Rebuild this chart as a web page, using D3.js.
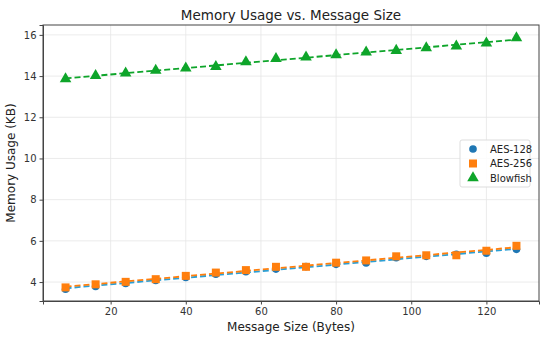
<!DOCTYPE html>
<html lang="en">
<head>
<meta charset="UTF-8">
<title>Memory Usage vs. Message Size</title>
<script src="https://d3js.org/d3.v7.min.js"></script>
<style>
    body { margin: 0; background: #fff; }
    text { font-family: "DejaVu Sans", sans-serif; fill: #222; }
    .grid line { stroke: #e6e6e6; stroke-width: 0.8px; }
    .axis path { stroke: #444; }
    .axis line { stroke: #444; }
    .axis text { font-size: 10px; fill: #333; }
</style>
</head>
<body>
<script>
    // message sizes in bytes
    const sizes = [8, 16, 24, 32, 40, 48, 56, 64, 72, 80, 88, 96, 104, 112, 120, 128];
    const aes128 = [3.65, 3.79, 3.93, 4.08, 4.22, 4.38, 4.50, 4.63, 4.75, 4.86, 4.93, 5.18, 5.25, 5.35, 5.40, 5.59];
    const aes256 = [3.74, 3.89, 4.01, 4.14, 4.30, 4.46, 4.58, 4.74, 4.74, 4.94, 5.05, 5.25, 5.30, 5.30, 5.52, 5.76];
    const blowfish = [13.86, 14.02, 14.14, 14.27, 14.38, 14.46, 14.69, 14.85, 14.92, 15.03, 15.16, 15.24, 15.37, 15.45, 15.60, 15.85];
    const xTicks = [20, 40, 60, 80, 100, 120];
    const yTicks = [4, 6, 8, 10, 12, 14, 16];

    const series = [
        { name: "AES-128", values: aes128, color: "#1f77b4", line: "#2a9fd6", shape: d3.symbolCircle, size: 46 },
        { name: "AES-256", values: aes256, color: "#ff7f0e", line: "#ff7f0e", shape: d3.symbolSquare, size: 64 },
        { name: "Blowfish", values: blowfish, color: "#0ea52a", line: "#0ea52a", shape: d3.symbolTriangle, size: 58 }
    ];

    const width = 550, height = 344;
    const margin = { top: 25, right: 11, bottom: 43, left: 43 };

    const svg = d3.select("body").append("svg")
        .attr("width", width)
        .attr("height", height);

    const x = d3.scaleLinear().domain([2, 134]).range([margin.left, width - margin.right]);
    const y = d3.scaleLinear().domain([3.08, 16.48]).range([height - margin.bottom, margin.top]);

    // grid
    svg.append("g").attr("class", "grid")
        .selectAll("line.v").data(xTicks).enter().append("line")
        .attr("x1", d => x(d)).attr("x2", d => x(d))
        .attr("y1", margin.top).attr("y2", height - margin.bottom);
    svg.append("g").attr("class", "grid")
        .selectAll("line.h").data(yTicks).enter().append("line")
        .attr("x1", margin.left).attr("x2", width - margin.right)
        .attr("y1", d => y(d)).attr("y2", d => y(d));

    // least squares fit, drawn as dashed trend line
    function fit(xs, ys) {
        const mx = d3.mean(xs), my = d3.mean(ys);
        let num = 0, den = 0;
        xs.forEach((v, i) => { num += (v - mx) * (ys[i] - my); den += (v - mx) * (v - mx); });
        const b = num / den;
        return v => my + b * (v - mx);
    }

    const plot = svg.append("g");
    series.forEach(s => {
        plot.append("g").selectAll("path").data(s.values).enter().append("path")
            .attr("d", d3.symbol().type(s.shape).size(s.size))
            .attr("transform", (d, i) => `translate(${x(sizes[i])},${y(d)})`)
            .attr("fill", s.color);
        const f = fit(sizes, s.values);
        const ends = [sizes[0], sizes[sizes.length - 1]];
        plot.append("line")
            .attr("x1", x(ends[0])).attr("y1", y(f(ends[0])))
            .attr("x2", x(ends[1])).attr("y2", y(f(ends[1])))
            .attr("stroke", s.line)
            .attr("stroke-width", 1.8)
            .attr("stroke-dasharray", "6,3");
    });

    // axes
    svg.append("g").attr("class", "axis")
        .attr("transform", `translate(0,${height - margin.bottom})`)
        .call(d3.axisBottom(x).tickValues(xTicks).tickSize(3.5).tickPadding(3));
    svg.append("g").attr("class", "axis")
        .attr("transform", `translate(${margin.left},0)`)
        .call(d3.axisLeft(y).tickValues(yTicks).tickSize(3.5).tickPadding(3));

    // frame
    svg.append("rect")
        .attr("x", margin.left).attr("y", margin.top)
        .attr("width", width - margin.left - margin.right)
        .attr("height", height - margin.top - margin.bottom)
        .attr("fill", "none").attr("stroke", "#444").attr("stroke-width", 1);

    // titles
    svg.append("text")
        .attr("x", (margin.left + width - margin.right) / 2).attr("y", 20)
        .attr("text-anchor", "middle").style("font-size", "13.5px")
        .text("Memory Usage vs. Message Size");
    svg.append("text")
        .attr("x", (margin.left + width - margin.right) / 2).attr("y", 331)
        .attr("text-anchor", "middle").style("font-size", "12px")
        .text("Message Size (Bytes)");
    svg.append("text")
        .attr("transform", `translate(15,${(margin.top + height - margin.bottom) / 2}) rotate(-90)`)
        .attr("text-anchor", "middle").style("font-size", "12px")
        .text("Memory Usage (KB)");

    // legend
    const lg = svg.append("g").attr("transform", "translate(460,140)");
    lg.append("rect")
        .attr("width", 70).attr("height", 47).attr("rx", 2)
        .attr("fill", "#fff").attr("fill-opacity", 0.85)
        .attr("stroke", "#ddd");
    series.forEach((s, i) => {
        const row = lg.append("g").attr("transform", `translate(0,${9 + i * 14.5})`);
        row.append("path")
            .attr("d", d3.symbol().type(s.shape).size(s.size))
            .attr("transform", "translate(13,0)")
            .attr("fill", s.color);
        row.append("text")
            .attr("x", 30).attr("y", 3.5)
            .style("font-size", "10px")
            .text(s.name);
    });
</script>
</body>
</html>
